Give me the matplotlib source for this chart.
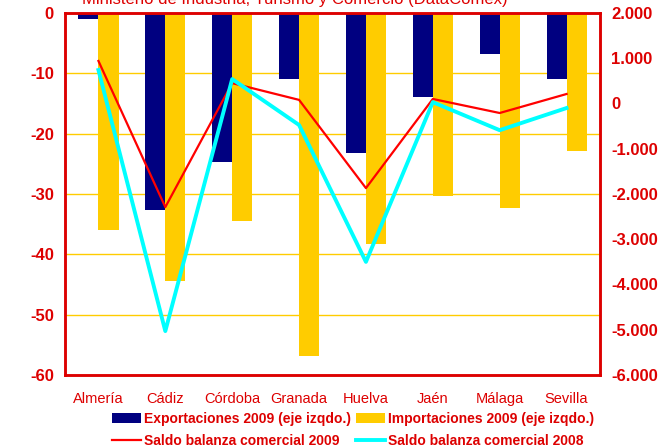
import matplotlib.pyplot as plt
from matplotlib.ticker import FuncFormatter
import numpy as np

provincias = ['Almería', 'Cádiz', 'Córdoba', 'Granada', 'Huelva', 'Jaén', 'Málaga', 'Sevilla']

# eje izquierdo
exportaciones_2009 = [-1.0, -32.7, -24.7, -10.9, -23.2, -13.9, -6.8, -10.9]
importaciones_2009 = [-36.0, -44.4, -34.5, -56.9, -38.3, -30.3, -32.3, -22.9]

# eje derecho
saldo_2009 = [940, -2290, 450, 80, -1870, 100, -210, 210]
saldo_2008 = [740, -5030, 540, -475, -3500, 30, -590, -100]

ROJO = '#dd0000'
plt.rcParams['font.family'] = ['Liberation Sans', 'DejaVu Sans']
plt.rcParams['axes.unicode_minus'] = False

fig = plt.figure(figsize=(6.62, 4.48), dpi=100)
ax = fig.add_axes([65/662, 73/448, 535/662, 362/448])
ax2 = ax.twinx()

x = np.arange(len(provincias))
w = 0.3
b1 = ax.bar(x - w/2, exportaciones_2009, w, color='#000080', zorder=2)
b2 = ax.bar(x + w/2, importaciones_2009, w, color='#ffcc00', zorder=2)

l1, = ax2.plot(x, saldo_2009, color='#ff0000', lw=1.6)
l2, = ax2.plot(x, saldo_2008, color='#00ffff', lw=2.8)

ax.set_xlim(-0.5, len(provincias) - 0.5)
ax.set_ylim(-60, 0)
ax.set_yticks(range(-60, 1, 10))
ax2.set_ylim(-6000, 2000)
ax2.set_yticks(range(-6000, 2001, 1000))
ax2.yaxis.set_major_formatter(FuncFormatter(lambda v, p: f'{int(v):,}'.replace(',', '.')))

for v in range(-50, 0, 10):
    ax.axhline(v, color='#ffcc00', lw=1, zorder=1)

ax.set_xticks(x)
ax.set_xticklabels(provincias, fontsize=10.5, color=ROJO)
ax.tick_params(axis='x', length=0, pad=12)
ax.tick_params(axis='y', length=0, pad=8, labelsize=12, labelcolor=ROJO)
ax2.tick_params(axis='y', length=0, pad=8, labelsize=12, labelcolor=ROJO)
for t in ax.get_yticklabels() + ax2.get_yticklabels():
    t.set_fontweight('bold')

for a in (ax, ax2):
    for s in a.spines.values():
        s.set_color(ROJO)
        s.set_linewidth(1.8)

fig.text(0.445, 1 - 4/448, 'Ministerio de Industria, Turismo y Comercio (DataComex)',
         color=ROJO, fontsize=12, ha='center', va='baseline')

leg = fig.legend([b1, l1, b2, l2],
                 ['Exportaciones 2009 (eje izqdo.)', 'Saldo balanza comercial 2009',
                  'Importaciones 2009 (eje izqdo.)', 'Saldo balanza comercial 2008'],
                 ncol=2, frameon=False, loc='upper left',
                 bbox_to_anchor=(112/662, 1 - 412/448), borderpad=0, borderaxespad=0,
                 handlelength=2.1, handletextpad=0.2, columnspacing=0.35,
                 labelspacing=0.55, prop={'size': 10, 'weight': 'bold'})
for t in leg.get_texts():
    t.set_color(ROJO)

fig.savefig('out.png', dpi=100)
